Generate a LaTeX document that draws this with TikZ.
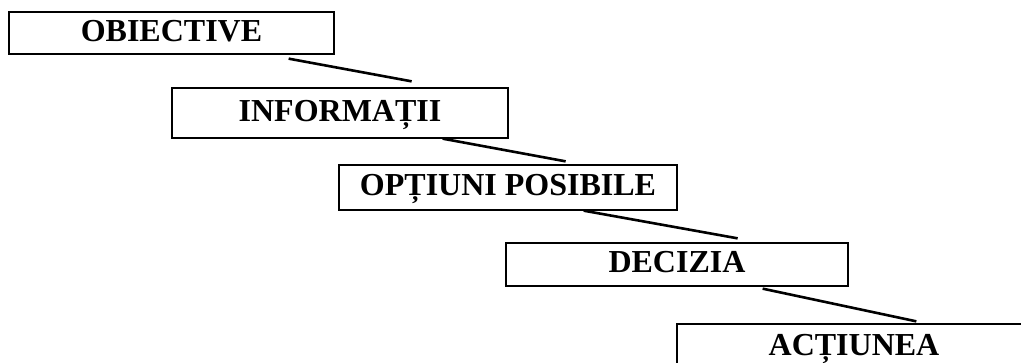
\documentclass[tikz,border=0pt]{standalone}
\usepackage{fontspec}
\setmainfont{Liberation Serif}
\usepackage{tikz}
\usetikzlibrary{positioning, calc}

\begin{document}
\begin{tikzpicture}
      [x=1pt, y=-1pt,
       stage/.style={rectangle,draw=black,line width=1.3pt,inner sep=0pt,
         font=\fontsize{32}{32}\selectfont\bfseries,
         text height=22pt,text depth=6pt},
       link/.style={draw=black,line width=2.6pt}]
      \useasboundingbox (0,0) rectangle (1021,362);

      \node (S1) at (171.5,33) [stage,minimum width=325pt,minimum height=42pt] {OBIECTIVE};
      \node (S2) at (340,113) [stage,minimum width=336pt,minimum height=50pt] {INFORMAȚII};
      \node (S3) at (508,187.5) [stage,minimum width=338pt,minimum height=45pt] {OPȚIUNI POSIBILE};
      \node (S4) at (677,264.5) [stage,minimum width=342pt,minimum height=43pt] {DECIZIA};
      \node (S5) at (854,347) [stage,minimum width=354pt,minimum height=46pt] {ACȚIUNEA};

      \draw[link] ([xshift=-46pt,yshift=-4pt]S1.south east) -- ([xshift=-97pt,yshift=6pt]S2.north east);
      \draw[link] ([xshift=-66pt]S2.south east) -- ([xshift=-112pt,yshift=3pt]S3.north east);
      \draw[link] ([xshift=-94pt]S3.south east) -- ([xshift=-111pt,yshift=4pt]S4.north east);
      \draw[link] ([xshift=-86pt,yshift=-2pt]S4.south east) -- ([xshift=240pt,yshift=2pt]S5.north west);
\end{tikzpicture}
\end{document}
